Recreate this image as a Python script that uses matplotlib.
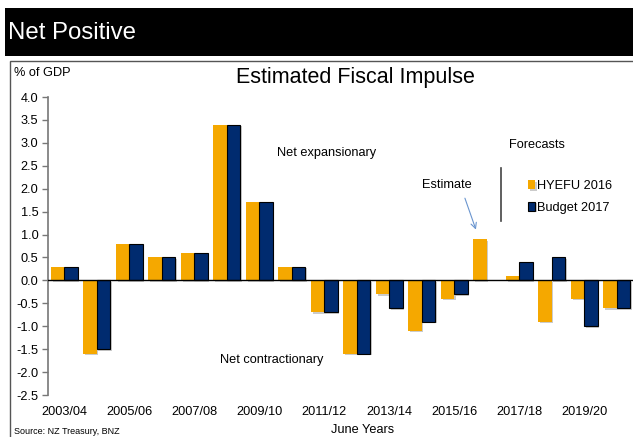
import numpy as np
from matplotlib import pyplot as plt
from matplotlib.patches import Rectangle
import matplotlib.patheffects as pe

# Fiscal impulse, % of GDP, June years
years = ['2003/04', '2004/05', '2005/06', '2006/07', '2007/08', '2008/09',
         '2009/10', '2010/11', '2011/12', '2012/13', '2013/14', '2014/15',
         '2015/16', '2016/17', '2017/18', '2018/19', '2019/20', '2020/21']
hyefu_2016 = [0.3, -1.6, 0.8, 0.5, 0.6, 3.4, 1.7, 0.3, -0.7, -1.6,
              -0.3, -1.1, -0.4, 0.9, 0.1, -0.9, -0.4, -0.6]
budget_2017 = [0.3, -1.5, 0.8, 0.5, 0.6, 3.4, 1.7, 0.3, -0.7, -1.6,
               -0.6, -0.9, -0.3, np.nan, 0.4, 0.5, -1.0, -0.6]
y_ticks = [-2.5, -2.0, -1.5, -1.0, -0.5, 0.0, 0.5, 1.0, 1.5, 2.0, 2.5, 3.0, 3.5, 4.0]

orange = '#F5A800'
navy = '#002B6F'
fnt = 'Liberation Sans'
fs = 9.2

W, H = 633, 437
fig = plt.figure(figsize=(W / 100, H / 100), dpi=100)
fig.patch.set_facecolor('white')

# black header band
fig.add_artist(Rectangle((5 / W, 1 - 56 / H), 1, 48 / H, transform=fig.transFigure,
                         facecolor='black', edgecolor='none'))
fig.text(8 / W, 1 - 33 / H, 'Net Positive', color='white', fontsize=17.3,
         family=fnt, va='center', ha='left')

# chart frame
fig.add_artist(Rectangle((10 / W, -0.01), 1, 1 - 61 / H + 0.01, transform=fig.transFigure,
                         facecolor='none', edgecolor='#555555', linewidth=1.0))

ax = fig.add_axes([48 / W, 42 / H, 585 / W, 298 / H])
x = np.arange(len(years))
w = 0.41
shadow = [pe.SimplePatchShadow(offset=(1.2, -1.2), shadow_rgbFace='#999999', alpha=0.5), pe.Normal()]
b1 = ax.bar(x - w / 2, hyefu_2016, width=w, color=orange, edgecolor='none', label='HYEFU 2016')
b2 = ax.bar(x + w / 2, budget_2017, width=w, color=navy, edgecolor='black', linewidth=0.8,
            label='Budget 2017')
for b in list(b1) + list(b2):
    b.set_path_effects(shadow)

ax.axhline(0, color='black', linewidth=1.0, zorder=3)
ax.set_xlim(-0.5, 17.5)
ax.set_ylim(-2.5, 4.0)
ax.set_yticks(y_ticks)
ax.set_yticklabels(['%.1f' % v for v in y_ticks], family=fnt, fontsize=fs)
ax.set_xticks(x[::2])
ax.set_xticklabels(years[::2], family=fnt, fontsize=fs)
ax.tick_params(axis='x', length=0, pad=8)
ax.tick_params(axis='y', length=4, width=1, color='#777777', direction='out', pad=3)
for s in ['top', 'right', 'bottom']:
    ax.spines[s].set_visible(False)
ax.spines['left'].set_color('#777777')
ax.spines['left'].set_linewidth(1.2)
ax.patch.set_alpha(0)

fig.text(355 / W, 1 - 77 / H, 'Estimated Fiscal Impulse', fontsize=15.5,
         family=fnt, ha='center', va='center')
fig.text(14 / W, 1 - 73 / H, '% of GDP', fontsize=fs, family=fnt,
         ha='left', va='center')
fig.text(327 / W, 1 - 153 / H, 'Net expansionary', fontsize=fs, family=fnt,
         ha='center', va='center')
fig.text(272 / W, 1 - 360 / H, 'Net contractionary', fontsize=fs, family=fnt,
         ha='center', va='center')
fig.text(537 / W, 1 - 145 / H, 'Forecasts', fontsize=fs, family=fnt,
         ha='center', va='center')
fig.text(447 / W, 1 - 185 / H, 'Estimate', fontsize=fs, family=fnt,
         ha='center', va='center')
fig.text(363 / W, 1 - 430 / H, 'June Years', fontsize=fs, family=fnt,
         ha='center', va='center')
fig.text(14 / W, 1 - 427 / H, 'Source: NZ Treasury, BNZ', fontsize=6.5,
         family=fnt, ha='left', va='top')

# estimate arrow and forecast divider
ax.annotate('', xy=(13 - w / 2 - 0.1, 1.05), xytext=(12.3, 1.85),
            arrowprops=dict(arrowstyle='->', color='#6A95CF', lw=0.8))
ax.plot([13.45, 13.45], [1.3, 2.45], color='#444444', linewidth=1.2)

leg = ax.legend(loc='upper left', bbox_to_anchor=(528 / W, 1 - 180 / H),
                bbox_transform=fig.transFigure,
                frameon=False, handlelength=0.55, handleheight=0.7,
                handletextpad=0.15, labelspacing=0.75, borderaxespad=0, borderpad=0,
                prop={'family': fnt, 'size': fs})

fig.savefig('out.png', dpi=100)
